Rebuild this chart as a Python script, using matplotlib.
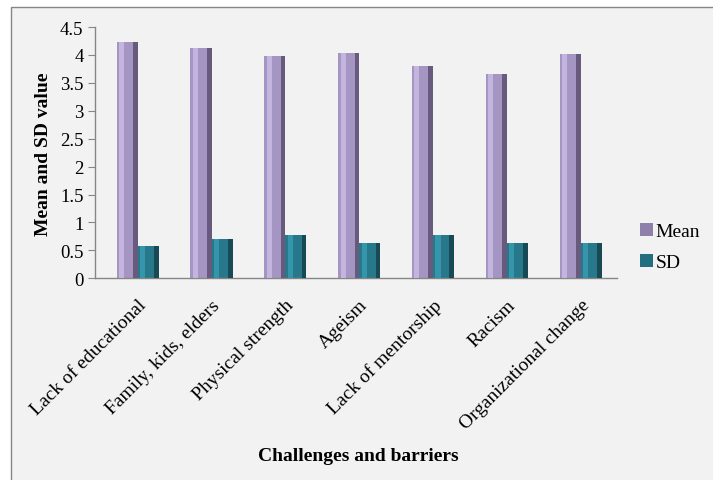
import matplotlib
matplotlib.use('Agg')
import matplotlib.pyplot as plt
from matplotlib.patches import Rectangle, Patch
import numpy as np

categories = ["Lack of educational", "Family, kids, elders", "Physical strength",
              "Ageism", "Lack of mentorship", "Racism", "Organizational change"]
mean_values = [4.23, 4.12, 3.98, 4.04, 3.81, 3.65, 4.01]
sd_values = [0.58, 0.70, 0.78, 0.64, 0.78, 0.63, 0.64]
y_ticks = [0, 0.5, 1, 1.5, 2, 2.5, 3, 3.5, 4, 4.5]
y_tick_labels = ["0", "0.5", "1", "1.5", "2", "2.5", "3", "3.5", "4", "4.5"]
series_names = ["Mean", "SD"]

W, H = 713, 481
plt.rcParams['font.family'] = ['Liberation Serif', 'DejaVu Serif']

fig = plt.figure(figsize=(W / 100, H / 100), dpi=100)
fig.patch.set_facecolor('white')

# chart area background with border (cropped at right/bottom)
bg = Rectangle((10.5 / W, -0.1), 1.2, (1 - 8 / H) + 0.1, transform=fig.transFigure,
               facecolor='#f2f2f2', edgecolor='#868686', lw=1.0, zorder=-10)
fig.add_artist(bg)

left_px, right_px, bottom_px, top_px = 94.7, 617.0, 279.3, 28.0
ax = fig.add_axes([left_px / W, 1 - bottom_px / H, (right_px - left_px) / W, (bottom_px - top_px) / H])
ax.patch.set_alpha(0)

x = np.arange(len(categories))
w = 0.285

def bevel_bars(xc, vals, base, light, dark):
    ax.bar(xc, vals, w, color=base, edgecolor='none', zorder=2)
    ax.bar(xc - w * 0.5 + w * 0.12, vals, w * 0.24, align='edge', color=light, edgecolor='none', zorder=3)
    ax.bar(xc + w * 0.5 - w * 0.22, vals, w * 0.22, align='edge', color=dark, edgecolor='none', zorder=3)

bevel_bars(x - w / 2, mean_values, '#a595c3', '#c3b5dd', '#675a7d')
bevel_bars(x + w / 2, sd_values, '#27788a', '#3596ab', '#184a55')

ax.set_xlim(-0.583, 6.494)
ax.set_ylim(0, 4.5)
ax.set_yticks(y_ticks)
ax.set_yticklabels(y_tick_labels, fontsize=13.5)
ax.set_xticks(x)
ax.set_xticklabels(categories, fontsize=14, rotation=45, ha='right', va='top',
                   rotation_mode='anchor')
ax.tick_params(axis='x', length=0, pad=13)
ax.tick_params(axis='y', length=5, direction='out', color='#868686', pad=3)

for s in ['top', 'right']:
    ax.spines[s].set_visible(False)
for s in ['left', 'bottom']:
    ax.spines[s].set_color('#868686')
    ax.spines[s].set_linewidth(1.0)

fig.text(43.7 / W, 1 - 154.5 / H, "Mean and SD value", rotation=90, fontsize=14,
         fontweight='bold', ha='center', va='center')
fig.text(358 / W, 1 - 457 / H, "Challenges and barriers", fontsize=14,
         fontweight='bold', ha='center', va='center')

handles = [Patch(facecolor='#8f7fab', edgecolor='none'), Patch(facecolor='#236f80', edgecolor='none')]
fig.legend(handles, series_names, loc='center left', bbox_to_anchor=(640 / W, 1 - 248 / H),
           frameon=False, fontsize=14, handlelength=0.65, handleheight=0.65,
           handletextpad=0.15, labelspacing=0.7, borderaxespad=0, borderpad=0)

fig.savefig('out.png', dpi=100, facecolor='white')
